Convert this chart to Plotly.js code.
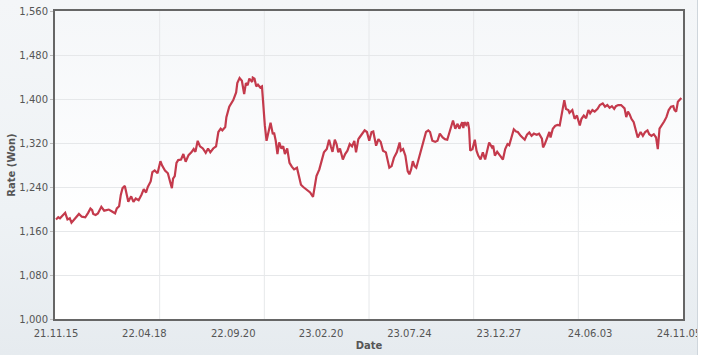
<!DOCTYPE html>
<html>
<head>
<meta charset="utf-8">
<script src="https://cdn.plot.ly/plotly-3.0.1.min.js"></script>
<style>
  html, body { margin:0; padding:0; background:#ffffff; width:702px; height:355px; overflow:hidden; }
  #wrap { position:absolute; left:0; top:0; width:697px; height:355px; overflow:hidden;
          background:linear-gradient(180deg,#f4f6f8 0%,#eef2f5 60%,#e6ebef 100%);
          border-right:1px solid #cfd6dc; }
  #plotbg { position:absolute; left:55px; top:11px; width:628px; height:308px;
            background:linear-gradient(180deg,#f5f7f9 0%,#fbfcfd 45%,#ffffff 70%,#ffffff 100%); }
  #chart { position:absolute; left:0; top:0; width:697px; height:355px; }
</style>
</head>
<body>
<div id="wrap"><div id="plotbg"></div><div id="chart"></div></div>
<script>
const dates = [
"2021-11-15","2021-11-19","2021-11-22","2021-11-28","2021-12-01","2021-12-05","2021-12-09","2021-12-12","2021-12-17","2021-12-21",
"2021-12-25","2021-12-30","2022-01-05","2022-01-10","2022-01-14","2022-01-17","2022-01-19","2022-01-23","2022-01-27","2022-02-02",
"2022-02-07","2022-02-11","2022-02-15","2022-02-20","2022-02-26","2022-03-01","2022-03-05","2022-03-08","2022-03-11","2022-03-15",
"2022-03-18","2022-03-21","2022-03-26","2022-03-30","2022-04-03","2022-04-08","2022-04-13","2022-04-17","2022-04-21","2022-04-24",
"2022-04-29","2022-05-02","2022-05-06","2022-05-11","2022-05-16","2022-05-19","2022-05-24","2022-05-29","2022-06-02","2022-06-05",
"2022-06-07","2022-06-10","2022-06-13","2022-06-16","2022-06-21","2022-06-25","2022-06-29","2022-07-04","2022-07-09","2022-07-13",
"2022-07-16","2022-07-20","2022-07-24","2022-07-29","2022-08-03","2022-08-07","2022-08-11","2022-08-16","2022-08-21","2022-08-25",
"2022-08-29","2022-09-01","2022-09-06","2022-09-08","2022-09-13","2022-09-17","2022-09-20","2022-09-25","2022-09-27","2022-10-01",
"2022-10-05","2022-10-09","2022-10-12","2022-10-15","2022-10-18","2022-10-23","2022-10-24","2022-10-27","2022-10-30","2022-11-02",
"2022-11-06","2022-11-09","2022-11-11","2022-11-14","2022-11-17","2022-11-20","2022-11-24","2022-11-28","2022-11-30","2022-12-03",
"2022-12-06","2022-12-09","2022-12-13","2022-12-16","2022-12-19","2022-12-23","2022-12-27","2022-12-31","2023-01-04","2023-01-09",
"2023-01-12","2023-01-16","2023-01-20","2023-01-25","2023-01-28","2023-02-01","2023-02-06","2023-02-09","2023-02-12","2023-02-17",
"2023-02-21","2023-02-25","2023-03-02","2023-03-06","2023-03-09","2023-03-12","2023-03-16","2023-03-19","2023-03-22","2023-03-25",
"2023-03-30","2023-04-03","2023-04-07","2023-04-11","2023-04-15","2023-04-19","2023-04-22","2023-04-26","2023-04-28","2023-05-03",
"2023-05-07","2023-05-11","2023-05-15","2023-05-19","2023-05-22","2023-05-27","2023-05-31","2023-06-04","2023-06-08","2023-06-13",
"2023-06-16","2023-06-19","2023-06-23","2023-06-27","2023-07-02","2023-07-07","2023-07-09","2023-07-13","2023-07-17","2023-07-21",
"2023-07-24","2023-07-27","2023-07-30","2023-08-02","2023-08-05","2023-08-10","2023-08-14","2023-08-18","2023-08-22","2023-08-26",
"2023-08-29","2023-09-02","2023-09-07","2023-09-11","2023-09-15","2023-09-20","2023-09-24","2023-09-28","2023-10-02","2023-10-04",
"2023-10-08","2023-10-12","2023-10-16","2023-10-19","2023-10-24","2023-10-26","2023-10-28","2023-10-31","2023-11-03","2023-11-05",
"2023-11-07","2023-11-11","2023-11-15","2023-11-18","2023-11-21","2023-11-25","2023-11-29","2023-12-03","2023-12-07","2023-12-10",
"2023-12-15","2023-12-17","2023-12-20","2023-12-24","2023-12-29","2024-01-03","2024-01-07","2024-01-11","2024-01-14","2024-01-22",
"2024-01-26","2024-01-29","2024-02-03","2024-02-06","2024-02-10","2024-02-14","2024-02-18","2024-02-22","2024-02-26","2024-03-02",
"2024-03-06","2024-03-11","2024-03-13","2024-03-16","2024-03-20","2024-03-24","2024-03-26","2024-03-30","2024-04-03","2024-04-07",
"2024-04-11","2024-04-13","2024-04-16","2024-04-19","2024-04-22","2024-04-26","2024-04-28","2024-05-03","2024-05-07","2024-05-11",
"2024-05-16","2024-05-19","2024-05-23","2024-05-27","2024-05-31","2024-06-03","2024-06-07","2024-06-11","2024-06-16","2024-06-20",
"2024-06-25","2024-06-29","2024-07-03","2024-07-07","2024-07-11","2024-07-15","2024-07-18","2024-07-22","2024-07-27","2024-07-30",
"2024-08-02","2024-08-05","2024-08-08","2024-08-11","2024-08-14","2024-08-18","2024-08-22","2024-08-25","2024-08-28","2024-08-30",
"2024-09-03","2024-09-07","2024-09-11","2024-09-14","2024-09-18","2024-09-22","2024-09-26","2024-09-29","2024-10-02","2024-10-06",
"2024-10-10","2024-10-14","2024-10-18","2024-10-22","2024-10-26","2024-10-28","2024-10-31","2024-11-03","2024-11-06","2024-11-09"
];
const rates = [
1181,1185,1183,1191,1193,1181,1183,1175,1181,1187,
1191,1186,1185,1193,1201,1198,1191,1189,1192,1204,
1197,1198,1199,1196,1192,1201,1205,1226,1238,1242,
1229,1213,1223,1213,1219,1216,1226,1236,1230,1240,
1250,1267,1270,1265,1287,1279,1270,1265,1249,1238,
1255,1260,1284,1289,1290,1300,1286,1298,1303,1309,
1304,1324,1314,1310,1302,1310,1303,1310,1314,1340,
1346,1343,1349,1367,1386,1392,1398,1412,1429,1438,
1433,1409,1429,1425,1437,1431,1439,1437,1423,1426,
1421,1423,1389,1352,1324,1336,1357,1336,1339,1324,
1300,1321,1310,1314,1300,1310,1284,1277,1272,1275,
1263,1244,1240,1236,1232,1230,1222,1244,1260,1272,
1290,1303,1309,1326,1314,1304,1326,1318,1303,1310,
1290,1300,1306,1318,1314,1324,1303,1327,1330,1338,
1343,1340,1324,1340,1341,1315,1327,1322,1306,1303,
1287,1275,1278,1293,1303,1321,1306,1309,1297,1269,
1263,1272,1287,1278,1275,1293,1309,1321,1340,1343,
1340,1324,1322,1324,1337,1330,1327,1326,1340,1349,
1361,1346,1355,1346,1358,1347,1358,1353,1358,1346,
1306,1309,1326,1306,1297,1290,1303,1290,1309,1321,
1312,1315,1297,1304,1297,1290,1309,1318,1316,1345,
1341,1340,1333,1330,1326,1335,1339,1333,1337,1335,
1337,1328,1312,1318,1329,1340,1330,1346,1351,1353,
1352,1364,1384,1398,1382,1380,1375,1380,1364,1370,
1352,1364,1370,1365,1380,1374,1380,1377,1382,1389,
1392,1386,1389,1384,1387,1382,1387,1389,1389,1386,
1383,1367,1377,1372,1364,1358,1340,1330,1336,1340,
1333,1340,1343,1336,1333,1336,1330,1309,1346,1352,
1359,1367,1380,1386,1387,1380,1377,1395,1398,1402
];
const tickDates = ["2021-11-15","2022-04-18","2022-09-20","2023-02-20","2023-07-24","2023-12-27","2024-06-03","2024-11-05"];
const tickLabels = ["21.11.15","22.04.18","22.09.20","23.02.20","23.07.24","23.12.27","24.06.03","24.11.05"];
const yTicks = [1000,1080,1160,1240,1320,1400,1480,1560];

const font = {family:'"DejaVu Sans", Verdana, sans-serif', size:10, color:'#555555'};
const vgrid = [1,2,3,4,5].map(k => ({
  type:'line', xref:'paper', yref:'paper', x0:k/6, x1:k/6, y0:0, y1:1,
  line:{color:'#e6e8ea', width:1}, layer:'below'
}));

Plotly.newPlot('chart', [{
  x: dates, y: rates, type:'scatter', mode:'lines',
  line:{color:'#c43a4c', width:2.2}, hoverinfo:'x+y'
}], {
  width:697, height:355,
  margin:{l:55, r:14, t:11, b:36, pad:0},
  paper_bgcolor:'rgba(0,0,0,0)', plot_bgcolor:'rgba(0,0,0,0)',
  font: font,
  showlegend:false,
  xaxis:{
    type:'date', range:['2021-11-13 06:00','2024-11-11 22:00'],
    tickvals: tickDates, ticktext: tickLabels, tickmode:'array',
    ticklabeloverflow:'allow',
    showgrid:false, zeroline:false,
    showline:true, mirror:true, linecolor:'#666666', linewidth:2,
    ticks:'outside', ticklen:4, tickcolor:'rgba(0,0,0,0)',
    tickfont: font,
    title:{text:'Date', font:{family:font.family, size:10, color:'#555555', weight:'bold'}, standoff:4}
  },
  yaxis:{
    range:[1000,1560], tickvals:yTicks, tickformat:',d',
    showgrid:true, gridcolor:'#e6e8ea', gridwidth:1, zeroline:false,
    showline:true, mirror:true, linecolor:'#666666', linewidth:2,
    ticks:'outside', ticklen:3, tickcolor:'#bbbbbb',
    tickfont: font,
    title:{text:'Rate (Won)', font:{family:font.family, size:10, color:'#555555', weight:'bold'}, standoff:2}
  },
  shapes: vgrid
}, {displayModeBar:false, staticPlot:true});
</script>
</body>
</html>
